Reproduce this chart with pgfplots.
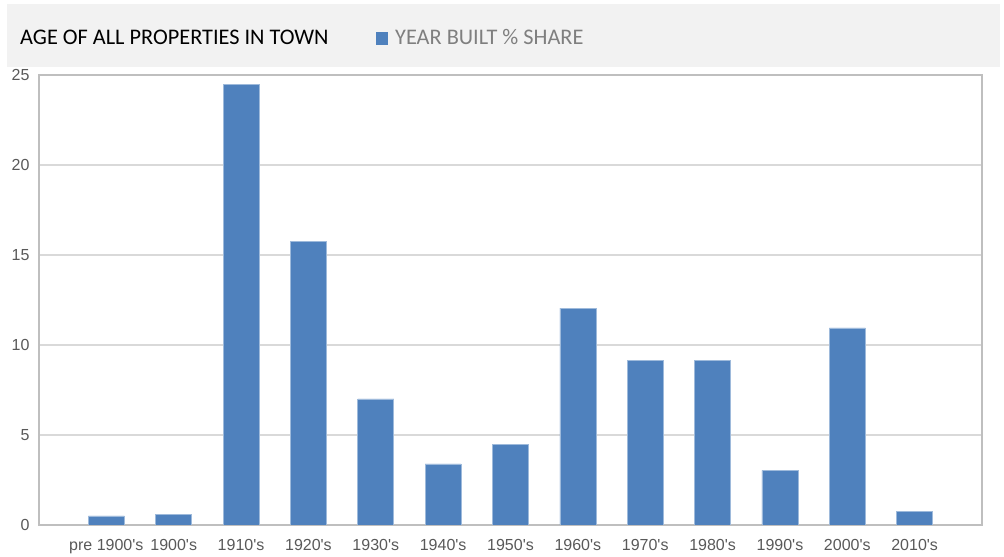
\documentclass[border=0pt]{standalone}
\usepackage{pgfplots}
\pgfplotsset{compat=1.18}
\usepackage{fontspec}
\setmainfont{Liberation Sans}
\newfontfamily\carlito{Carlito}
\definecolor{barblue}{HTML}{4F81BD}
\definecolor{bandgray}{HTML}{F2F2F2}
\definecolor{ticktext}{HTML}{595959}
\definecolor{legtext}{HTML}{7F7F7F}
\definecolor{gridc}{HTML}{D9D9D9}
\definecolor{axisc}{HTML}{BFBFBF}
\begin{document}
\begin{tikzpicture}
\useasboundingbox (0,0) rectangle (1004bp,557bp);
\fill[bandgray] (7bp,490bp) rectangle (1000bp,553bp);
\node[anchor=base west, inner sep=0pt, text=black] at (20bp,512bp) {\carlito\fontsize{22.3bp}{26bp}\selectfont AGE OF ALL PROPERTIES IN TOWN};
\fill[barblue] (376bp,512bp) rectangle (388bp,525bp);
\node[anchor=base west, inner sep=0pt, text=legtext] at (395bp,512bp) {\carlito\fontsize{22.3bp}{26bp}\selectfont YEAR BUILT \% SHARE};
\begin{axis}[
  at={(39bp,32bp)}, anchor=south west,
  width=943bp, height=450bp, scale only axis,
  xmin=-1, xmax=13, ymin=0, ymax=25,
  xtick={0,1,2,3,4,5,6,7,8,9,10,11,12},
  xticklabels={pre 1900\textquotesingle s,1900\textquotesingle s,1910\textquotesingle s,1920\textquotesingle s,1930\textquotesingle s,1940\textquotesingle s,1950\textquotesingle s,1960\textquotesingle s,1970\textquotesingle s,1980\textquotesingle s,1990\textquotesingle s,2000\textquotesingle s,2010\textquotesingle s},
  ytick={0,5,10,15,20,25},
  major tick length=0pt,
  ymajorgrids,
  grid style={gridc, line width=1.2bp},
  axis line style={axisc, line width=1.6bp},
  tick label style={text=ticktext, font=\fontsize{16bp}{18bp}\selectfont},
  xticklabel style={yshift=-11bp},
  yticklabel style={xshift=-6bp},
  /pgf/number format/assume math mode=true,
  ybar, bar width=36bp,
]
\addplot[fill=barblue, draw=barblue!55!white, line width=0.6bp] coordinates {
(0,0.5) (1,0.61) (2,24.49) (3,15.77) (4,7.0) (5,3.39) (6,4.47) (7,12.05) (8,9.16) (9,9.16) (10,3.03) (11,10.95) (12,0.76)
};
\end{axis}
\end{tikzpicture}
\end{document}
